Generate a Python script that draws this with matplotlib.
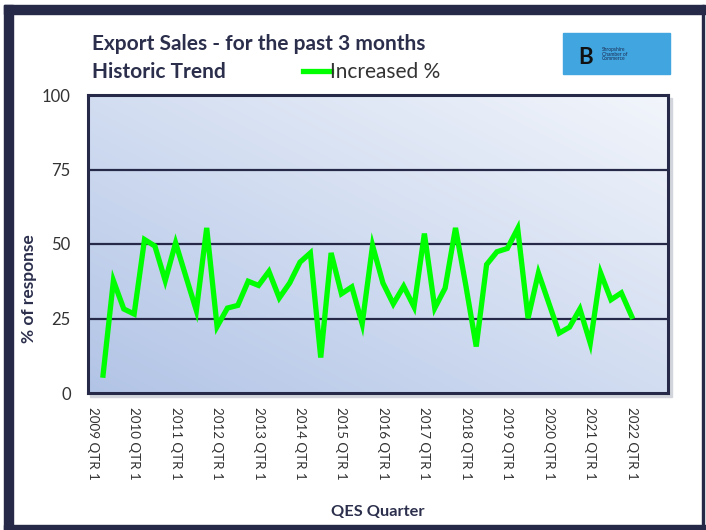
import matplotlib.pyplot as plt
from matplotlib.patches import Rectangle
from matplotlib.colors import LinearSegmentedColormap
import numpy as np

# 수출 판매 - 증가 응답 비율 (2009 Q1 ~ 2021 Q4)
increased = [6, 37.7, 28.2, 26.5, 51.5, 49.3, 37.7, 50.4, 39, 27.7, 55.4, 22.3,
             28.5, 29.4, 37.5, 36.1, 40.8, 31.9, 36.9, 43.9, 47, 11.9, 47, 33.3,
             35.6, 23.2, 49.5, 36.9, 29.9, 35.8, 28.9, 53.5, 28.5, 35.2, 55.4, 36,
             15.6, 43.1, 47.4, 48.5, 55.2, 25.1, 40.3, 30.2, 20.1, 22.1, 28.2, 16.7,
             40.3, 31.3, 33.6, 25.7]
years = list(range(2009, 2023))
tick_labels = ["{} QTR 1".format(y) for y in years]
y_ticks = [0, 25, 50, 75, 100]

navy = '#262a48'
text_col = '#2b2f4c'
plt.rcParams['font.family'] = ['Lato', 'DejaVu Sans']

fig = plt.figure(figsize=(7.06, 5.30), dpi=100)
W, H = 706, 530

def px_rect(x0, y0, x1, y1, **kw):
    # 픽셀 좌표(위에서 아래로) -> figure 좌표
    fig.patches.append(Rectangle((x0 / W, 1 - y1 / H), (x1 - x0) / W, (y1 - y0) / H,
                                 transform=fig.transFigure, **kw))

# 바깥 테두리
px_rect(4, 5, 706, 14, color=navy, zorder=-1)
px_rect(4, 5, 13, 530, color=navy, zorder=-1)
px_rect(4, 525, 706, 530, color=navy, zorder=-1)
px_rect(702, 5, 704, 530, color=navy, zorder=-1)

# 플롯 영역 (그림자 포함)
left, right, top, bottom = 87.5, 668, 95, 393
px_rect(left + 3, top + 3, right + 4, bottom + 4, color='#d3d5dc', zorder=-1)
ax = fig.add_axes([left / W, 1 - bottom / H, (right - left) / W, (bottom - top) / H])
ax.set_zorder(1)

# 그라데이션 배경
cmap = LinearSegmentedColormap.from_list('bg', ['#b2c4e6', '#d2ddf1', '#f2f5fb'])
gx, gy = np.meshgrid(np.linspace(0, 1, 200), np.linspace(0, 1, 200))
ax.imshow((gx + gy) / 2, cmap=cmap, extent=[0, 1, 0, 1], transform=ax.transAxes,
          aspect='auto', origin='lower', zorder=0)

n_cat = 56
x = np.arange(1, len(increased) + 1)
ax.plot(x, increased, color='#00ff00', lw=3.8, solid_joinstyle='miter', zorder=3,
        label='Increased %')

ax.set_xlim(-0.5, n_cat - 0.5)
ax.set_ylim(0, 100)
ax.set_yticks(y_ticks)
ax.set_yticklabels([str(v) for v in y_ticks], fontsize=12, color='#333333')
for v in y_ticks[1:-1]:
    ax.axhline(v, color=navy, lw=1.6, zorder=2)
ax.set_xticks(np.arange(0, 4 * len(years), 4))
ax.set_xticklabels(tick_labels, rotation=270, fontsize=9.6, color='#333333', va='top')
ax.tick_params(length=0, pad=10)
ax.tick_params(axis='y', pad=12)
for s in ax.spines.values():
    s.set_color(navy)
    s.set_linewidth(2.2)

ax.set_ylabel('% of response', fontsize=12.5, fontweight='bold', color=text_col)
ax.yaxis.set_label_coords(-0.087, 0.35)
ax.set_xlabel('QES Quarter', fontsize=11.8, fontweight='bold', color=text_col, labelpad=18)

# 제목과 범례
fig.text(92 / W, 1 - 44 / H, 'Export Sales - for the past 3 months', fontsize=15,
         fontweight='bold', color=text_col, va='center')
fig.text(92 / W, 1 - 72 / H, 'Historic Trend', fontsize=15, fontweight='bold',
         color=text_col, va='center')
fig.legend(loc='center left', bbox_to_anchor=(293 / W, 1 - 72 / H), frameon=False,
           fontsize=15, handlelength=1.3, handletextpad=0.0, borderpad=0,
           labelcolor='#333333')

# 로고
px_rect(563, 33, 670, 74, color='#41a6e0', zorder=1)
fig.text(586 / W, 1 - 57 / H, 'B', fontsize=16, fontweight='bold', color='#111111',
         ha='center', va='center')
fig.text(602 / W, 1 - 54 / H, 'Shropshire\nChamber of\nCommerce', fontsize=3.5,
         color='#1a2a50', va='center', linespacing=1.0)

plt.savefig('out.png', dpi=100)
